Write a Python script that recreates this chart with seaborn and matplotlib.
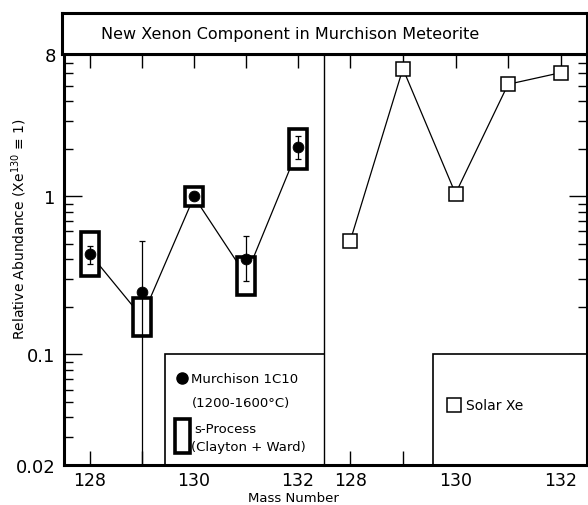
import matplotlib
matplotlib.use('Agg')
import matplotlib.pyplot as plt
import matplotlib.ticker as mticker
import matplotlib.transforms as mtransforms
from matplotlib.patches import Rectangle
import seaborn as sns
import numpy as np

# Xe isotopes, same mass numbers in both panels
mass = [128, 129, 130, 131, 132]
mass_labels = {128: '128', 130: '130', 132: '132'}

# Murchison 1C10 (1200-1600 C), filled circles with error bars
murch = [0.433, 0.25, 1.0, 0.403, 2.06]
murch_err_lo = [0.062, 0.249, 0.0, 0.113, 0.33]
murch_err_hi = [0.055, 0.272, 0.0, 0.161, 0.35]

# s-process prediction (Clayton + Ward), ranges drawn as open boxes
sproc_lo = [0.315, 0.131, 0.866, 0.239, 1.48]
sproc_hi = [0.594, 0.226, 1.14, 0.415, 2.67]

# solar xenon, open squares
solar = [0.524, 6.41, 1.04, 5.11, 6.05]

ytick_vals = [0.02, 0.1, 1, 8]
ytick_labels = ['0.02', '0.1', '1', '8']

sns.set_style('ticks')
plt.rcParams['font.family'] = ['DejaVu Sans']
for k in ['text.color', 'axes.labelcolor', 'xtick.color', 'ytick.color', 'axes.edgecolor']:
    plt.rcParams[k] = 'black'

fig = plt.figure(figsize=(5.88, 5.06), dpi=100)
W, H = 588, 506
x0, xm, x1 = 64, 324, 587
ytop, ybot = 54.5, 466
ax1 = fig.add_axes([x0 / W, 1 - ybot / H, (xm - x0) / W, (ybot - ytop) / H])
ax2 = fig.add_axes([xm / W, 1 - ybot / H, (x1 - xm) / W, (ybot - ytop) / H], sharey=ax1)
axt = fig.add_axes([62 / W, 1 - ytop / H, (x1 - 62) / W, (ytop - 14) / H])

# left panel: s-process line + boxes, Murchison points
s_mid = np.sqrt(np.array(sproc_lo) * np.array(sproc_hi))
sns.lineplot(x=mass, y=s_mid, ax=ax1, color='black', lw=0.9, zorder=2)
ax1.bar(mass, np.array(sproc_hi) - np.array(sproc_lo), bottom=sproc_lo, width=0.36,
        facecolor='white', edgecolor='black', linewidth=2.6, zorder=3)
ax1.errorbar(mass, murch, yerr=[murch_err_lo, murch_err_hi], fmt='none', ecolor='black',
             elinewidth=0.9, capsize=2.5, capthick=0.9, zorder=4)
sns.scatterplot(x=mass, y=murch, ax=ax1, color='black', s=60, edgecolor='black', zorder=5)

# right panel: solar Xe
sns.lineplot(x=mass, y=solar, ax=ax2, color='black', lw=0.9, marker='s', markersize=9.5,
             markerfacecolor='white', markeredgecolor='black', markeredgewidth=1.1)

for ax in (ax1, ax2):
    ax.set_yscale('log')
    ax.set_ylim(0.02, 8)
    ax.set_xlim(127.5, 132.5)
    ax.set_xticks(mass, [mass_labels.get(m, '') for m in mass])
    ax.tick_params(axis='x', direction='in', top=True, bottom=True, length=10,
                   width=1, labelsize=12.5, pad=4)
    ax.set_xlabel('')
    ax.set_ylabel('')
    for s in ax.spines.values():
        s.set_linewidth(2.2)

ax1.set_yticks(ytick_vals, ytick_labels)
ax1.yaxis.set_minor_locator(mticker.LogLocator(base=10, subs=np.arange(2, 10)))
ax1.yaxis.set_minor_formatter(mticker.NullFormatter())
ax1.tick_params(axis='y', which='major', direction='in', length=13, width=1, labelsize=13, pad=6)
ax1.tick_params(axis='y', which='minor', direction='in', length=6.5, width=1)
# thin divider between the two panels
ax1.spines['right'].set_visible(False)
ax2.spines['left'].set_linewidth(1.0)
ax2.tick_params(axis='y', which='both', left=False, right=True, labelleft=False,
                labelright=False, direction='in')
ax2.tick_params(axis='y', which='major', length=13, width=1)
ax2.tick_params(axis='y', which='minor', length=6.5, width=1)

ax1.set_ylabel('Relative Abundance (Xe$^{130}$ \u2261 1)', fontsize=10)
ax1.yaxis.set_label_coords(-0.135, 0.576)
fig.text(293 / W, 1 - 505 / H, 'Mass Number', ha='center', va='bottom', fontsize=9.5)

# legend boxes, top edge at 0.1
tr1 = mtransforms.blended_transform_factory(ax1.transAxes, ax1.transData)
ax1.add_patch(Rectangle((0.388, 0.02), 0.7, 0.08, transform=tr1, facecolor='white',
                        edgecolor='black', lw=1.2, zorder=1))
tr2 = mtransforms.blended_transform_factory(ax2.transAxes, ax2.transData)
ax2.add_patch(Rectangle((0.413, 0.02), 0.7, 0.08, transform=tr2, facecolor='white',
                        edgecolor='black', lw=1.2, zorder=1))

ax1.plot([0.453], [0.211], marker='o', ms=8, color='black', transform=ax1.transAxes)
ax1.text(0.49, 0.211, 'Murchison 1C10', transform=ax1.transAxes, va='center', fontsize=9.5)
ax1.text(0.49, 0.153, '(1200-1600\u00b0C)', transform=ax1.transAxes, va='center', fontsize=9.5)
ax1.add_patch(Rectangle((0.428, 0.03), 0.056, 0.083, transform=ax1.transAxes,
                        facecolor='white', edgecolor='black', lw=2.6, zorder=3))
ax1.text(0.5, 0.0875, 's-Process', transform=ax1.transAxes, va='center', fontsize=9.5)
ax1.text(0.49, 0.044, '(Clayton + Ward)', transform=ax1.transAxes, va='center', fontsize=9.5)

ax2.plot([0.494], [0.1465], marker='s', ms=9.5, mfc='white', mec='black', mew=1.1,
         transform=ax2.transAxes)
ax2.text(0.54, 0.1465, 'Solar Xe', transform=ax2.transAxes, va='center', fontsize=10)

# title box
axt.set_xticks([])
axt.set_yticks([])
for s in axt.spines.values():
    s.set_linewidth(2.2)
axt.text(0.434, 0.5, 'New Xenon Component in Murchison Meteorite', ha='center',
         va='center', fontsize=11.5, transform=axt.transAxes)

fig.savefig('out.png', dpi=100)
